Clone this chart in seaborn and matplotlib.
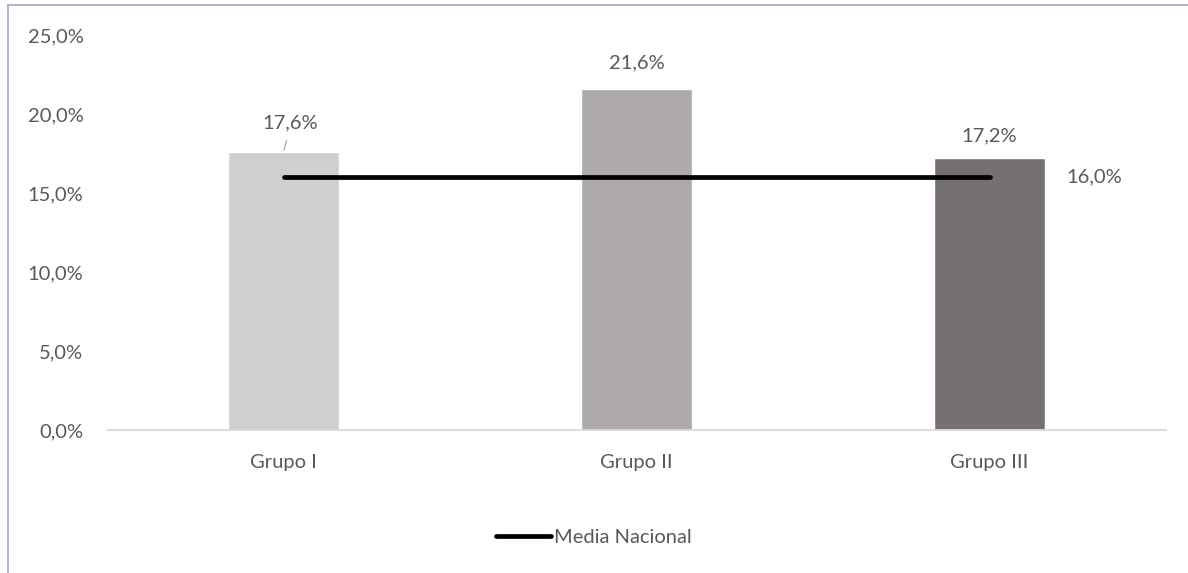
import matplotlib
matplotlib.use("Agg")
import matplotlib.pyplot as plt
from matplotlib.lines import Line2D
import seaborn as sns
import pandas as pd

# Data
grupos = ["Grupo I", "Grupo II", "Grupo III"]
porcentajes = [17.6, 21.6, 17.2]
media_nacional = [16.0, 16.0, 16.0]
colores = ["#d0cecf", "#aeaaa9", "#767170"]
yticks = [0, 5, 10, 15, 20, 25]

sns.set_theme(style="white")
plt.rcParams["font.family"] = ["Lato", "DejaVu Sans"]
text_color = "#595959"
fs = 14.5

fig = plt.figure(figsize=(11.88, 5.73), dpi=100)
ax = fig.add_axes([107 / 1188, 1 - 430 / 573, 1059 / 1188, 395 / 573])

df = pd.DataFrame({"grupo": grupos, "valor": porcentajes})
sns.barplot(data=df, x="grupo", y="valor", hue="grupo", palette=colores,
            width=0.315, legend=False, ax=ax, saturation=1)

df_media = pd.DataFrame({"grupo": grupos, "media": media_nacional})
ax.plot(df_media["grupo"], df_media["media"], color="black", lw=3.4,
        solid_capstyle="round", zorder=5, label="Media Nacional")

ax.set_xlim(-0.5, 2.5)
ax.set_ylim(0, 25)
ax.set_yticks(yticks)
ax.set_yticklabels([f"{v:.1f}%".replace(".", ",") for v in yticks])
ax.set_xlabel("")
ax.set_ylabel("")
ax.tick_params(axis="y", length=0, pad=17, labelsize=fs, labelcolor=text_color)
ax.tick_params(axis="x", length=0, pad=17.5, labelsize=fs, labelcolor=text_color)
ax.grid(False)
for s in ["top", "right", "left"]:
    ax.spines[s].set_visible(False)
ax.spines["bottom"].set_color("#d9d9d9")
ax.spines["bottom"].set_linewidth(1.3)

# Bar value labels
offsets = [(5, 21), (0, 18.5), (0, 16)]
for i, (v, off) in enumerate(zip(porcentajes, offsets)):
    ax.annotate(f"{v:.1f}%".replace(".", ","), xy=(i, v), xytext=off,
                textcoords="offset points", ha="center", va="center",
                fontsize=fs, color=text_color)
# Leader line for the first label
ax.annotate("", xy=(0, porcentajes[0]), xytext=(2.2, 8),
            textcoords="offset points",
            arrowprops=dict(arrowstyle="-", color="#a6a6a6", lw=0.9,
                            shrinkA=0, shrinkB=1.5))

# Average label
ax.annotate(f"{media_nacional[-1]:.1f}%".replace(".", ","),
            xy=(2, media_nacional[-1]), xytext=(55, 0),
            textcoords="offset points", ha="left", va="center",
            fontsize=fs, color=text_color)

# Legend
handle = Line2D([], [], color="black", lw=3.4, solid_capstyle="round")
leg = fig.legend([handle], ["Media Nacional"], loc="center",
                 bbox_to_anchor=(0.5, 1 - 537 / 573), frameon=False,
                 handlelength=2.7, handletextpad=0.15, fontsize=fs)
for t in leg.get_texts():
    t.set_color(text_color)

# Outer frame (top and left edges)
frame_color = "#a9b5cc"
fig.add_artist(Line2D([7.5 / 1188, 1], [1 - 4.5 / 573, 1 - 4.5 / 573],
                      color=frame_color, lw=1.4, transform=fig.transFigure))
fig.add_artist(Line2D([7.5 / 1188, 7.5 / 1188], [0, 1 - 4.5 / 573],
                      color=frame_color, lw=1.4, transform=fig.transFigure))

fig.savefig("out.png", dpi=100, facecolor="white")
